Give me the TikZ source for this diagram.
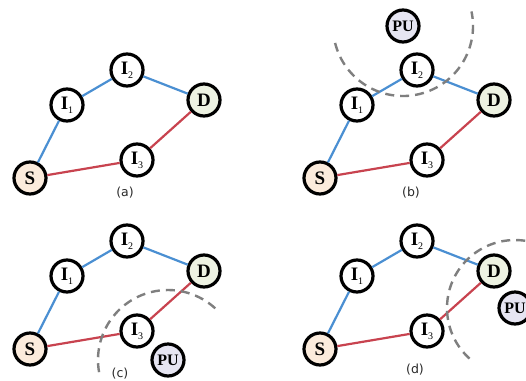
\documentclass[tikz,border=0pt]{standalone}
\usepackage{fontspec}
\setmainfont{Liberation Serif}
\newfontfamily\lblfont{DejaVu Sans}
\definecolor{bluel}{HTML}{4A8FD2}
\definecolor{redl}{HTML}{C8434F}
\definecolor{sfill}{HTML}{FBEBDC}
\definecolor{dfill}{HTML}{EDF2E2}
\definecolor{pufill}{HTML}{E6E5F2}
\definecolor{dashc}{HTML}{7F7F7F}
\definecolor{lblc}{HTML}{2A2A2A}
\tikzset{
  nd/.style={circle, draw=black, line width=3.2pt, minimum size=32pt, inner sep=0pt, fill=white,
    font=\fontsize{19}{19}\selectfont\bfseries},
  snd/.style={nd, fill=sfill},
  dnd/.style={nd, fill=dfill},
  pund/.style={nd, fill=pufill, font=\fontsize{16}{16}\selectfont\bfseries},
  bl/.style={draw=bluel, line width=2.2pt},
  rl/.style={draw=redl, line width=2.2pt},
  rng/.style={draw=dashc, line width=2.4pt, dash pattern=on 9pt off 6pt},
  lbl/.style={font=\lblfont\fontsize{12.5}{12.5}\selectfont, text=lblc, inner sep=0pt}
}
\newcommand\Isub[1]{I\raisebox{-4pt}{\fontsize{10}{10}\selectfont\mdseries #1}}
\newcommand\drawpanel[3]{%
  \begin{scope}[shift={(#2,#3)}]
    \node[snd] (#1S) at (30,178) {S};
    \node[nd] (#1I1) at (67,105) {\Isub{1}};
    \node[nd] (#1I2) at (127,70) {\Isub{2}};
    \node[dnd] (#1D) at (204,100) {D};
    \node[nd] (#1I3) at (137,160) {\Isub{3}};
    \draw[bl] (#1S) -- (#1I1);
    \draw[bl] (#1I1) -- (#1I2);
    \draw[bl] (#1I2) -- (#1D);
    \draw[rl] (#1S) -- (#1I3);
    \draw[rl] (#1I3) -- (#1D);
  \end{scope}}
\begin{document}
\begin{tikzpicture}[x=1pt,y=-1pt]
\useasboundingbox (0,0) rectangle (526,380);
\clip (0,0) rectangle (526,380);
\fill[white] (0,0) rectangle (526,380);
\drawpanel{a}{0}{0}
\drawpanel{b}{290}{0}
\drawpanel{c}{0}{171}
\drawpanel{d}{290}{171}
% labels
\node[lbl] (la) at (125,193) {(a)};
\node[lbl] (lb) at (411,193) {(b)};
\node[lbl] (lc) at (120,374) {(c)};
\node[lbl] (ld) at (415,370) {(d)};
% PU nodes
\node[pund] (bPU) at (403,26) {PU};
\node[pund] (cPU) at (168,360) {PU};
\node[pund] (dPU) at (515,308) {PU};
% interference ranges
\draw[rng] ([shift={(166:70)}]bPU.center) arc[start angle=166, end angle=-12, radius=70];
\draw[rng] ([shift={(170:70)}]cPU.center) arc[start angle=170, end angle=313, radius=70];
\draw[rng] ([shift={(132:68)}]dPU.center) arc[start angle=132, end angle=290, radius=68];
\end{tikzpicture}
\end{document}
